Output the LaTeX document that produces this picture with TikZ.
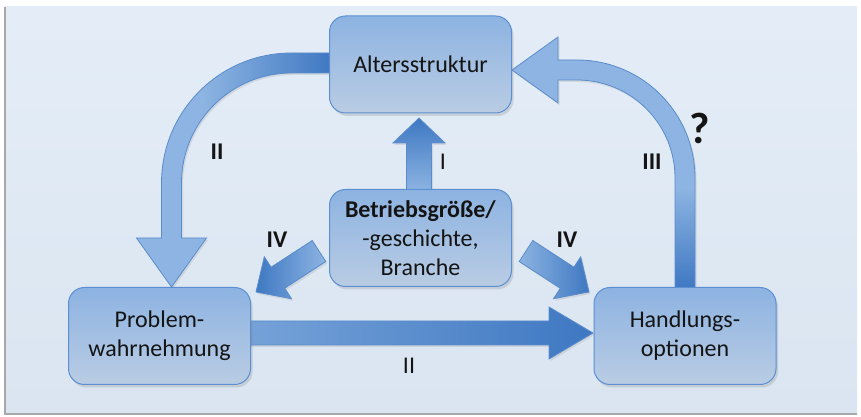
\documentclass[tikz,border=0pt]{standalone}
\usepackage{fontspec}
\setmainfont{Carlito}
\usetikzlibrary{shadows,calc}
\definecolor{bgtop}{HTML}{E4EDF7}
\definecolor{bgbot}{HTML}{DAE5F1}
\definecolor{boxtop}{HTML}{8DB3E2}
\definecolor{boxbot}{HTML}{B9CCE3}
\definecolor{boxline}{HTML}{5B8FD2}
\definecolor{arrlight}{HTML}{8DB4E2}
\definecolor{arrmid}{HTML}{76A2D8}
\definecolor{arrdark}{HTML}{3E78C2}
\definecolor{arrline}{HTML}{5A8CCB}
\definecolor{txt}{HTML}{141414}
\definecolor{frameline}{HTML}{A8A8A8}
\pgfdeclarehorizontalshading{shII}{100bp}{color(0bp)=(arrlight); color(25bp)=(arrlight); color(42bp)=(arrlight); color(75bp)=(arrdark); color(100bp)=(arrdark)}
\pgfdeclareverticalshading{shIII}{100bp}{color(0bp)=(arrdark); color(25bp)=(arrdark); color(45bp)=(arrlight); color(75bp)=(arrlight); color(100bp)=(arrlight)}
\tikzset{
  box/.style={rounded corners=16pt, minimum width=182pt, minimum height=97pt,
    draw=boxline, line width=1pt, top color=boxtop, bottom color=boxbot,
    align=center, font=\fontsize{24}{29}\selectfont, text=txt,
    drop shadow={opacity=0.25, shadow xshift=2pt, shadow yshift=-3pt}},
  blockarrow/.style={draw=arrline, line width=0.8pt, line join=miter,
    drop shadow={opacity=0.18, shadow xshift=1.5pt, shadow yshift=-2pt}},
  lab/.style={font=\fontsize{24}{29}\selectfont\bfseries, text=txt},
  labr/.style={font=\fontsize{24}{29}\selectfont, text=txt}
}
\begin{document}
\begin{tikzpicture}[x=1pt,y=1pt]
\useasboundingbox (0,0) rectangle (861,417);
% background
\shade[top color=bgtop, bottom color=bgbot] (5,3) rectangle (857,410);
\draw[frameline, line width=1.5pt] (5,410) -- (5,3) -- (857,3);

% block arrows (behind the boxes)
% II: Altersstruktur -> Problemwahrnehmung (curved)
\path[blockarrow, shading=shII]
  (332,364) -- (291.5,364) arc[start angle=90, end angle=180, radius=130]
  -- (161.5,179) -- (136.5,179) -- (171.5,130) -- (206.5,179) -- (181.5,179)
  -- (181.5,234) arc[start angle=180, end angle=90, radius=110]
  -- (332,344) -- cycle;
% III: Handlungsoptionen -> Altersstruktur (curved)
\path[blockarrow, shading=shIII]
  (675,128) -- (675,239) arc[start angle=0, end angle=90, radius=98]
  -- (558,337) -- (558,314) -- (512,347) -- (558,380) -- (558,357)
  -- (577,357) arc[start angle=90, end angle=0, radius=118]
  -- (695,128) -- cycle;
% I: Betriebsgroesse -> Altersstruktur
\path[blockarrow, top color=arrdark, bottom color=arrlight]
  (406.5,226) -- (406.5,274) -- (393,274) -- (419,299) -- (445,274)
  -- (431.5,274) -- (431.5,226) -- cycle;
% IV right
\path[blockarrow, left color=arrlight, right color=arrdark]
  (519.2,155.5) -- (560.3,128.8) -- (553.5,118.3) -- (589,125)
  -- (580.7,160.2) -- (573.9,149.8) -- (532.8,176.5) -- cycle;
% IV left
\path[blockarrow, left color=arrdark, right color=arrlight]
  (325.8,155.5) -- (284.7,128.8) -- (291.5,118.3) -- (256,125)
  -- (264.3,160.2) -- (271.1,149.8) -- (312.2,176.5) -- cycle;
% II: Problemwahrnehmung -> Handlungsoptionen
\path[blockarrow, left color=arrmid, right color=arrdark]
  (248,72) -- (549,72) -- (549,58) -- (593,84) -- (549,110) -- (549,96)
  -- (248,96) -- cycle;

% nodes
\node[box] (A) at (420.5,352.5) {Altersstruktur};
\node[box] (B) at (420.5,179) {\textbf{Betriebsgröße/}\\-geschichte,\\Branche};
\node[box] (P) at (159.5,81) {Problem-\\wahrnehmung};
\node[box] (H) at (685,81) {Handlungs-\\optionen};

% labels
\node[lab] (l2a) at (217,265) {II};
\node[labr] (l1) at (443,255) {I};
\node[lab] (l3) at (652,255) {III};
\node[font=\fontsize{44}{50}\selectfont\bfseries, text=txt] (q) at (700,289) {?};
\node[lab] (l4a) at (277,177) {IV};
\node[lab] (l4b) at (567,177) {IV};
\node[labr] (l2b) at (409,51) {II};
\end{tikzpicture}
\end{document}
